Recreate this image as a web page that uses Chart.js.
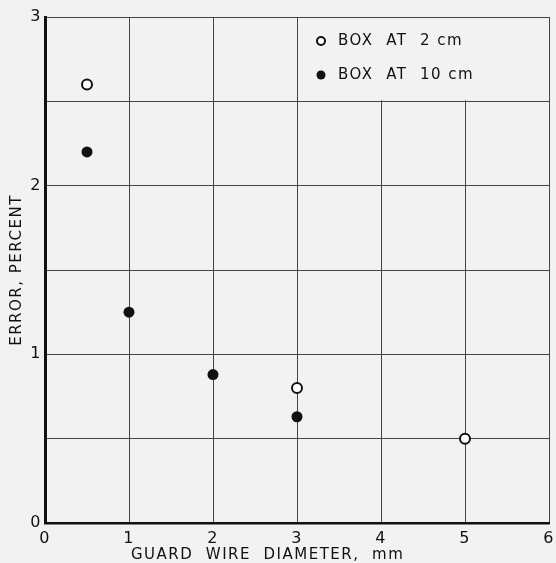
<!DOCTYPE html>
<html><head><meta charset="utf-8">
<script src="https://cdn.jsdelivr.net/npm/chart.js@4/dist/chart.umd.min.js"></script>
<style>html,body{margin:0;padding:0;background:#f2f2f2;}#w{width:556px;height:563px;}</style>
</head><body><div id="w"><canvas id="c"></canvas></div>
<script>
const openX = [0.5, 3, 5];
const openY = [2.6, 0.8, 0.5];
const filledX = [0.5, 1, 2, 3];
const filledY = [2.2, 1.25, 0.88, 0.63];
const legendLabels = ['BOX  AT  2 cm', 'BOX  AT  10 cm'];
const xTitle = 'GUARD  WIRE  DIAMETER,  mm';
const yTitle = 'ERROR, PERCENT';

const spacingPlugin = {
  id: 'spacing',
  beforeUpdate(chart) { chart.ctx.letterSpacing = '1.5px'; },
  beforeDraw(chart) { chart.ctx.letterSpacing = '1.5px'; }
};

const legendPlugin = {
  id: 'inlegend',
  beforeDatasetsDraw(chart) {
    const {ctx, scales: {x, y}} = chart;
    const x0 = x.getPixelForValue(3), x1 = x.getPixelForValue(6);
    const y0 = y.getPixelForValue(3), y1 = y.getPixelForValue(2.5);
    ctx.save();
    ctx.fillStyle = '#f2f2f2';
    ctx.fillRect(x0 + 1, y0 + 1, x1 - x0 - 2, y1 - y0 - 2);
    ctx.font = '15px "DejaVu Sans"';
    ctx.letterSpacing = '1.5px';
    ctx.textBaseline = 'middle';
    const mx = x0 + 24, tx = x0 + 41;
    const rows = [y0 + 24, y0 + 58];
    ctx.beginPath(); ctx.arc(mx, rows[0], 4, 0, Math.PI * 2);
    ctx.fillStyle = '#fff'; ctx.fill(); ctx.lineWidth = 2; ctx.strokeStyle = '#111'; ctx.stroke();
    ctx.beginPath(); ctx.arc(mx, rows[1], 4.5, 0, Math.PI * 2);
    ctx.fillStyle = '#111'; ctx.fill();
    ctx.fillText(legendLabels[0], tx, rows[0]);
    ctx.fillText(legendLabels[1], tx, rows[1]);
    ctx.restore();
  }
};

const xTitlePlugin = {
  id: 'xtitle',
  afterDraw(chart) {
    const {ctx, scales: {x}} = chart;
    ctx.save();
    ctx.font = '15px "DejaVu Sans"';
    ctx.letterSpacing = '1.5px';
    ctx.fillStyle = '#111';
    ctx.textAlign = 'center';
    ctx.textBaseline = 'middle';
    ctx.fillText(xTitle, x.getPixelForValue(2.65), 555);
    ctx.restore();
  }
};

new Chart(document.getElementById('c'), {
  type: 'scatter',
  data: {
    datasets: [
      { label: legendLabels[0], data: openX.map((v, i) => ({x: v, y: openY[i]})),
        pointRadius: 5, pointBorderWidth: 2, pointBackgroundColor: '#fff', pointBorderColor: '#111' },
      { label: legendLabels[1], data: filledX.map((v, i) => ({x: v, y: filledY[i]})),
        pointRadius: 5.5, pointBorderWidth: 0, pointBackgroundColor: '#111', pointBorderColor: '#111' }
    ]
  },
  options: {
    responsive: true, maintainAspectRatio: false, animation: false,
    layout: { padding: { top: 17, right: 5, left: 0, bottom: 0 } },
    plugins: { legend: { display: false }, tooltip: { enabled: false } },
    scales: {
      x: {
        type: 'linear', min: 0, max: 6,
        ticks: { stepSize: 1, color: '#111', font: { family: 'DejaVu Sans', size: 16 }, padding: 6 },
        grid: { color: '#444', lineWidth: 1, drawTicks: false },
        border: { color: '#111', width: 2.5 },
        title: { display: false },
        afterFit(s) { s.height = 40; s.paddingLeft = 0; s.paddingRight = 0; }
      },
      y: {
        type: 'linear', min: 0, max: 3,
        ticks: { stepSize: 0.5, color: '#111', font: { family: 'DejaVu Sans', size: 16 }, padding: 3,
          callback: v => Number.isInteger(v) ? String(v) : '' },
        grid: { color: '#444', lineWidth: 1, drawTicks: false },
        border: { color: '#111', width: 3 },
        title: { display: true, text: yTitle, color: '#111', font: { family: 'DejaVu Sans', size: 15 }, padding: { top: 8, bottom: 0 } },
        afterFit(s) { s.width = 45; s.paddingTop = 0; s.paddingBottom = 0; }
      }
    }
  },
  plugins: [spacingPlugin, legendPlugin, xTitlePlugin]
});
</script></body></html>
